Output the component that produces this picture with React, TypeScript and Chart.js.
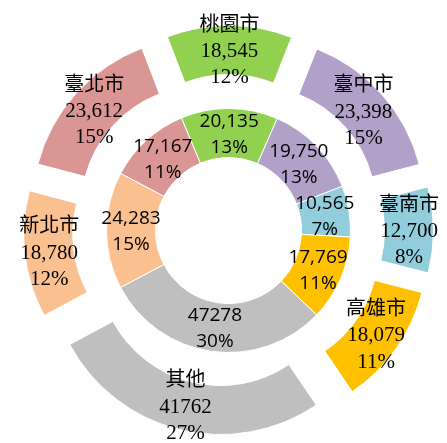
import React, { useEffect, useRef } from "react";
import { Chart, registerables } from "chart.js";

Chart.register(...registerables);

// ---- data ----
const categories = ["桃園市", "臺中市", "臺南市", "高雄市", "其他", "新北市", "臺北市"];
const outerValues = [18545, 23398, 12700, 18079, 41762, 18780, 23612];
const innerValues = [20135, 19750, 10565, 17769, 47278, 24283, 17167];
const useThousands = [true, true, true, true, false, true, true];

// ---- style ----
const colors = ["#92D050", "#B1A0C7", "#92CDDC", "#FFC000", "#BFBFBF", "#FAC090", "#DA9694"];
const EXPLODE = 34;
const OUTER_ROTATION = -21;
const INNER_ROTATION = -22.7;

function fmt(v: number, grouped: boolean) {
  return grouped ? v.toLocaleString("en-US") : String(v);
}

// Excel-like percentages that add up to 100 (largest remainder)
function percents(values: number[]) {
  const total = values.reduce((a, b) => a + b, 0);
  const exact = values.map((v) => (v / total) * 100);
  const floors = exact.map((e) => Math.floor(e));
  let rest = 100 - floors.reduce((a, b) => a + b, 0);
  const order = exact
    .map((e, i) => ({ i, r: e - Math.floor(e) }))
    .sort((a, b) => b.r - a.r);
  for (let k = 0; k < order.length && rest > 0; k++, rest--) floors[order[k].i] += 1;
  return floors.map((p) => p + "%");
}

const outerPct = percents(outerValues);
const innerPct = percents(innerValues);

const explodePlugin = {
  id: "explodeAndLabels",
  beforeDatasetDraw(chart: any, args: any) {
    if (args.index !== 0) return;
    const ctx = chart.ctx;
    args.meta.data.forEach((arc: any) => {
      const mid = (arc.startAngle + arc.endAngle) / 2;
      ctx.save();
      ctx.translate(Math.cos(mid) * EXPLODE, Math.sin(mid) * EXPLODE);
      arc.draw(ctx);
      ctx.restore();
    });
    return false;
  },
  afterDatasetsDraw(chart: any) {
    const ctx = chart.ctx;
    ctx.save();
    ctx.fillStyle = "#000";
    ctx.textAlign = "center";
    ctx.textBaseline = "alphabetic";
    // outer ring labels
    chart.getDatasetMeta(0).data.forEach((arc: any, i: number) => {
      const mid = (arc.startAngle + arc.endAngle) / 2;
      const r = (arc.innerRadius + arc.outerRadius) / 2 + EXPLODE;
      const x = arc.x + Math.cos(mid) * r;
      const y = arc.y + Math.sin(mid) * r;
      ctx.font = '20px "Noto Sans CJK TC"';
      ctx.fillText(categories[i], x, y - 27 + 7.6);
      ctx.font = '21px "Liberation Serif"';
      ctx.fillText(fmt(outerValues[i], useThousands[i]), x, y + 7);
      ctx.fillText(outerPct[i], x, y + 26.5 + 7);
    });
    // inner ring labels
    chart.getDatasetMeta(1).data.forEach((arc: any, i: number) => {
      const mid = (arc.startAngle + arc.endAngle) / 2;
      const r = (arc.innerRadius + arc.outerRadius) / 2;
      const x = arc.x + Math.cos(mid) * r;
      const y = arc.y + Math.sin(mid) * r;
      ctx.font = '19px "Open Sans"';
      ctx.fillText(fmt(innerValues[i], useThousands[i]), x, y - 13 + 6.8);
      ctx.fillText(innerPct[i], x, y + 13 + 6.8);
    });
    ctx.restore();
  },
};

export default function App() {
  const ref = useRef<HTMLCanvasElement | null>(null);
  useEffect(() => {
    if (!ref.current) return;
    const chart = new Chart(ref.current, {
      type: "doughnut",
      data: {
        labels: categories,
        datasets: [
          {
            data: outerValues,
            backgroundColor: colors,
            borderColor: "#ffffff",
            borderWidth: 1,
            hoverOffset: 0,
            rotation: OUTER_ROTATION,
          } as any,
          {
            data: innerValues,
            backgroundColor: colors,
            borderColor: "#ffffff",
            borderWidth: 1,
            hoverOffset: 0,
            rotation: INNER_ROTATION,
          } as any,
        ],
      },
      options: {
        responsive: false,
        animation: false,
        radius: 171,
        cutout: "42.7%",
        events: [],
        layout: { padding: { left: 10, top: 18, right: 0, bottom: 0 } },
        plugins: {
          legend: { display: false },
          tooltip: { enabled: false },
          title: { display: false },
        },
      } as any,
      plugins: [explodePlugin as any],
    });
    return () => chart.destroy();
  }, []);
  return (
    <div style={{ position: "absolute", left: 0, top: 0, width: 447, height: 443, background: "#fff" }}>
      <canvas ref={ref} width={447} height={443} />
    </div>
  );
}
